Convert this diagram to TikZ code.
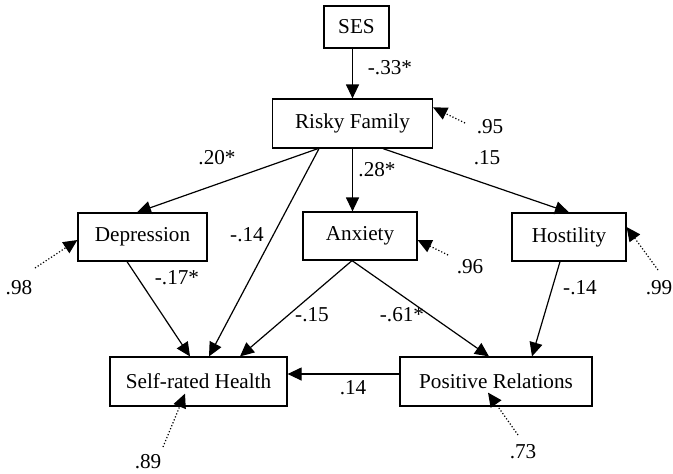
\documentclass[tikz,border=0pt]{standalone}
\usepackage{fontspec}
\setmainfont{Liberation Serif}
\usepackage{tikz}
\usetikzlibrary{calc,arrows.meta}

\tikzset{
    var/.style={draw, rectangle, line width=0.6pt, inner sep=0pt},
    path/.style={line width=0.6pt, -{Triangle[length=7pt,width=6.5pt]}},
    err/.style={line width=0.6pt, densely dotted, -{Triangle[length=7pt,width=6.5pt]}},
    coef/.style={inner sep=0pt},
}

\begin{document}
\begin{tikzpicture}[x=0.5pt, y=-0.5pt, font=\fontsize{10.6}{13}\selectfont]
        \useasboundingbox (0,0) rectangle (673,473);
        % variables
        \node[var, minimum width=32.5pt, minimum height=21pt] (ses) at (356.5,27) {SES};
        \node[var, minimum width=80pt, minimum height=24.5pt] (rf) at (352.5,123.5) {Risky Family};
        \node[var, minimum width=64.5pt, minimum height=24pt] (dep) at (142.5,237) {Depression};
        \node[var, minimum width=57pt, minimum height=24pt] (anx) at (360,236) {Anxiety};
        \node[var, minimum width=57pt, minimum height=24pt] (hos) at (569,237) {Hostility};
        \node[var, minimum width=88.5pt, minimum height=24.5pt] (srh) at (198.5,381.5) {Self-rated Health};
        \node[var, minimum width=96pt, minimum height=24.5pt] (pos) at (496,381.5) {Positive Relations};

        % paths
        \draw[path] (rf.north |- ses.south) -- (rf.north);
        \draw[path] ($(rf.south)+(-34.5,0)$) -- ($(dep.north)+(-5.5,0)$);
        \draw[path] ($(rf.south)+(-33.5,0)$) -- ($(srh.north)+(10.5,0)$);
        \draw[path] (rf.south) -- (rf.south |- anx.north);
        \draw[path] ($(rf.south)+(30.5,0)$) -- (hos.north);
        \draw[path] ($(dep.south)+(-15.5,0)$) -- ($(srh.north)+(-8.5,0)$);
        \draw[path] ($(anx.south)+(-8,0)$) -- ($(srh.north)+(41.5,0)$);
        \draw[path] ($(anx.south)+(-8,0)$) -- ($(pos.north)+(-7,0)$);
        \draw[path] ($(hos.south)+(-9,0)$) -- ($(pos.north)+(36,0)$);
        \coordinate (pw) at ($(pos.west)+(0,-7.5)$);
        \draw[path] (pw) -- (pw -| srh.east);

        % path coefficients
        \node[coef] (c1) at (390,68) {-.33*};
        \node[coef] (c2) at (217,158) {.20*};
        \node[coef] (c3) at (377,170) {.28*};
        \node[coef] (c4) at (487,158) {.15};
        \node[coef] (c5) at (247,235) {-.14};
        \node[coef] (c6) at (177,278) {-.17*};
        \node[coef] (c7) at (312,315) {-.15};
        \node[coef] (c8) at (402,315) {-.61*};
        \node[coef] (c9) at (580,288) {-.14};
        \node[coef] (c10) at (353,388) {.14};

        % residuals
        \coordinate (erf) at (465,123);
        \coordinate (eanx) at (448,255);
        \coordinate (edep) at (35,268);
        \coordinate (ehos) at (658,270);
        \coordinate (esrh) at (163,447);
        \coordinate (epos) at (518,435);
        \draw[err] (erf) -- ($(rf.north east)+(0,9)$);
        \draw[err] (eanx) -- ($(anx.east)+(0,4)$);
        \draw[err] (edep) -- ($(dep.west)+(0,3)$);
        \draw[err] (ehos) -- ($(hos.east)+(0,-10)$);
        \draw[err] (esrh) -- ($(srh.south)+(-13.5,-13)$);
        \draw[err] (epos) -- ($(pos.south)+(-8,-14)$);
        \node[coef] (r1) at (490,127) {.95};
        \node[coef] (r2) at (470,267) {.96};
        \node[coef] (r3) at (19,288) {.98};
        \node[coef] (r4) at (659,288) {.99};
        \node[coef] (r5) at (148,462) {.89};
        \node[coef] (r6) at (523,452) {.73};
    \end{tikzpicture}
\end{document}
